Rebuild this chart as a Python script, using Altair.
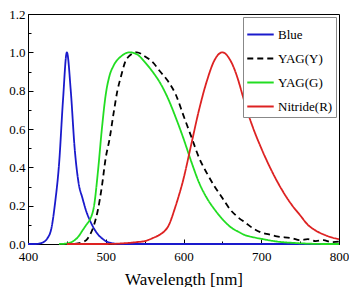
import altair as alt
import pandas as pd

blue_x = [400, 410, 420, 425, 430, 435, 440, 445, 450, 455, 460, 465, 470, 475, 480, 485, 490, 495, 500, 505, 510, 520, 600, 700, 800]
blue_y = [0, 0, 0.01, 0.03, 0.08, 0.22, 0.42, 0.75, 1.0, 0.8, 0.5, 0.32, 0.24, 0.17, 0.12, 0.08, 0.05, 0.03, 0.015, 0.007, 0.003, 0, 0, 0, 0]

yagy_x = [460, 470, 475, 480, 485, 490, 495, 500, 505, 510, 515, 520, 525, 530, 540, 550, 560, 570, 580, 590, 600, 610, 620, 630, 640, 650, 660, 670, 680, 690, 700, 710, 720, 740, 750, 760, 770, 780, 790, 800]
yagy_y = [0, 0.01, 0.02, 0.05, 0.1, 0.18, 0.3, 0.45, 0.55, 0.68, 0.8, 0.88, 0.95, 0.98, 1.0, 0.98, 0.95, 0.9, 0.85, 0.78, 0.67, 0.56, 0.45, 0.37, 0.3, 0.24, 0.18, 0.14, 0.11, 0.08, 0.06, 0.05, 0.04, 0.03, 0.02, 0.025, 0.015, 0.02, 0.01, 0.012]

yagg_x = [440, 450, 460, 465, 470, 475, 480, 485, 490, 495, 500, 505, 510, 520, 530, 540, 550, 560, 570, 580, 590, 600, 610, 620, 630, 640, 650, 660, 670, 680, 690, 700, 720, 740, 760, 780, 800]
yagg_y = [0, 0.003, 0.02, 0.04, 0.07, 0.1, 0.13, 0.2, 0.38, 0.6, 0.78, 0.88, 0.93, 0.98, 1.0, 0.99, 0.95, 0.9, 0.84, 0.76, 0.66, 0.55, 0.43, 0.32, 0.24, 0.18, 0.13, 0.09, 0.065, 0.045, 0.035, 0.027, 0.013, 0.006, 0.002, 0, 0]

red_x = [450, 500, 520, 540, 550, 560, 570, 575, 580, 590, 600, 610, 620, 630, 640, 650, 660, 670, 675, 680, 690, 700, 710, 720, 730, 740, 750, 760, 770, 780, 790, 800]
red_y = [0, 0, 0.003, 0.01, 0.015, 0.03, 0.05, 0.065, 0.09, 0.2, 0.34, 0.52, 0.7, 0.85, 0.96, 1.0, 0.96, 0.86, 0.79, 0.72, 0.6, 0.5, 0.41, 0.33, 0.26, 0.2, 0.15, 0.1, 0.07, 0.05, 0.035, 0.025]

series = ["Blue", "YAG(Y)", "YAG(G)", "Nitride(R)"]
colors = ["#1a1acc", "#000000", "#22dd22", "#dd2222"]
dashes = [[1, 0], [6, 4], [1, 0], [1, 0]]

x_ticks = list(range(400, 801, 50))
y_ticks = [round(i * 0.1, 1) for i in range(13)]

rows = []
for name, xs, ys in [("Blue", blue_x, blue_y), ("YAG(Y)", yagy_x, yagy_y),
                     ("YAG(G)", yagg_x, yagg_y), ("Nitride(R)", red_x, red_y)]:
    for i, (x, y) in enumerate(zip(xs, ys)):
        rows.append({"series": name, "wl": x, "val": y, "order": i})
df = pd.DataFrame(rows)

font = "Liberation Serif"
W, H = 311, 230
xs = alt.Scale(domain=[400, 800], nice=False)
ys = alt.Scale(domain=[0, 1.2], nice=False)

xaxis = alt.Axis(
    title="Wavelength [nm]", values=x_ticks[::2], ticks=False,
    labelPadding=6, labelFontSize=13, labelColor="black",
    titleFontSize=17, titleFontWeight="normal", titleColor="black", titlePadding=8,
    domainColor="black", grid=False, labelFlush=False, labelOverlap=False,
)
yaxis = alt.Axis(
    title=None, values=y_ticks[::2], format=".1f", ticks=False,
    labelPadding=3, labelFontSize=13, labelColor="black",
    domainColor="black", grid=False, labelFlush=False, labelOverlap=False,
)
xtick_axis = alt.Axis(
    title=None, orient="top", offset=-H, values=x_ticks, labels=False, domain=False,
    tickColor="black", grid=False,
    tickSize={"condition": {"test": "datum.value % 100 === 0", "value": 5}, "value": 3},
)
ytick_axis = alt.Axis(
    title=None, orient="right", offset=-W, values=y_ticks, labels=False, domain=False,
    tickColor="black", grid=False,
    tickSize={"condition": {"test": "round(datum.value * 10) % 2 === 0", "value": 5}, "value": 3},
)

lines = alt.Chart(df).mark_line(strokeWidth=1.8, interpolate="monotone").encode(
    x=alt.X("wl:Q", scale=xs, axis=xaxis),
    y=alt.Y("val:Q", scale=ys, axis=yaxis),
    color=alt.Color("series:N", scale=alt.Scale(domain=series, range=colors),
                    legend=alt.Legend(title=None, orient="top-right", offset=3,
                                      symbolType="stroke", symbolSize=700, symbolStrokeWidth=2,
                                      labelFontSize=13, labelColor="black",
                                      strokeColor="#888888", fillColor="white", padding=3,
                                      rowPadding=2, labelOffset=3)),
    strokeDash=alt.StrokeDash("series:N", scale=alt.Scale(domain=series, range=dashes), legend=None),
    order="order:Q",
)

tick_layer = alt.Chart(df).mark_point(opacity=0).encode(
    x=alt.X("wl:Q", scale=xs, axis=xtick_axis),
    y=alt.Y("val:Q", scale=ys, axis=ytick_axis),
)

chart = alt.layer(lines, tick_layer).resolve_axis(x="independent", y="independent").properties(
    width=W, height=H, padding={"left": 0, "top": 0, "right": 0, "bottom": 0},
    background="white",
).configure(font=font).configure_axis(labelFont=font, titleFont=font).configure_legend(
    labelFont=font
).configure_view(stroke="black", strokeWidth=1)

chart.save("out.html", embed_options={"renderer": "svg", "actions": False})
